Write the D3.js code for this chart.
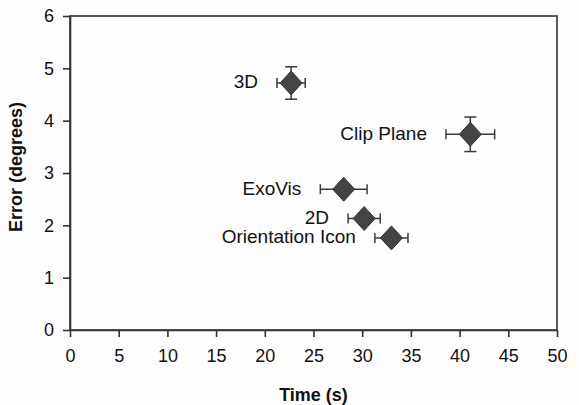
<!DOCTYPE html>
<html>
<head>
<meta charset="utf-8">
<script src="https://cdn.jsdelivr.net/npm/d3@7"></script>
<style>
  body { margin: 0; background: #fdfdfd; }
  svg { display: block; font-family: "Liberation Sans", Arial, sans-serif; }
  .axis text { font-size: 18px; fill: #111; }
  .axis path, .axis line { stroke: #333; stroke-width: 1.6px; }
  .title { font-size: 18px; font-weight: bold; fill: #111; }
  .label { font-size: 19px; fill: #111; }
</style>
</head>
<body>
<svg width="579" height="405"></svg>
<script>
// conditions, mean time (s), mean error (degrees), and their error bars
var conditions = ["3D", "Clip Plane", "ExoVis", "2D", "Orientation Icon"];
var timeMean  = [22.7, 41.1, 28.1, 30.2, 33.0];
var errorMean = [4.72, 3.74, 2.69, 2.13, 1.76];
var timeErr   = [1.45, 2.5, 2.4, 1.65, 1.7];
var errorErr  = [0.31, 0.33, 0.1, 0.1, 0.1];
var xTicks = [0, 5, 10, 15, 20, 25, 30, 35, 40, 45, 50];
var yTicks = [0, 1, 2, 3, 4, 5, 6];

var data = conditions.map(function(c, i) {
    return { name: c, t: timeMean[i], e: errorMean[i], te: timeErr[i], ee: errorErr[i] };
});

var svg = d3.select("svg");
var margin = { top: 16, right: 22, bottom: 75, left: 70 },
    width = 579 - margin.left - margin.right,
    height = 405 - margin.top - margin.bottom;

var x = d3.scaleLinear().domain([0, 50]).range([0, width]);
var y = d3.scaleLinear().domain([0, 6]).range([height, 0]);

var g = svg.append("g").attr("transform", "translate(" + margin.left + "," + margin.top + ")");

// frame
g.append("rect")
    .attr("width", width)
    .attr("height", height)
    .attr("fill", "none")
    .attr("stroke", "#333")
    .attr("stroke-width", 1.6);

g.append("g")
    .attr("class", "axis")
    .attr("transform", "translate(0," + height + ")")
    .call(d3.axisBottom(x).tickValues(xTicks).tickFormat(d3.format("d")).tickSize(7).tickSizeOuter(0).tickPadding(10))
    .selectAll("text").attr("dy", "0.85em");

g.append("g")
    .attr("class", "axis")
    .call(d3.axisLeft(y).tickValues(yTicks).tickFormat(d3.format("d")).tickSize(7).tickSizeOuter(0).tickPadding(9));

g.append("text")
    .attr("class", "title")
    .attr("x", width / 2)
    .attr("y", height + 71)
    .attr("text-anchor", "middle")
    .text("Time (s)");

g.append("text")
    .attr("class", "title")
    .attr("transform", "rotate(-90)")
    .attr("x", -height / 2 + 6)
    .attr("y", -48)
    .attr("text-anchor", "middle")
    .text("Error (degrees)");

var pts = g.selectAll(".pt").data(data).enter().append("g").attr("class", "pt");

var errColor = "#3a3a3a";

// horizontal error bars
pts.append("line")
    .attr("x1", function(d) { return x(d.t - d.te); })
    .attr("x2", function(d) { return x(d.t + d.te); })
    .attr("y1", function(d) { return y(d.e); })
    .attr("y2", function(d) { return y(d.e); })
    .attr("stroke", errColor).attr("stroke-width", 1.5);
[-1, 1].forEach(function(s) {
    pts.append("line")
        .attr("x1", function(d) { return x(d.t + s * d.te); })
        .attr("x2", function(d) { return x(d.t + s * d.te); })
        .attr("y1", function(d) { return y(d.e) - 5; })
        .attr("y2", function(d) { return y(d.e) + 5; })
        .attr("stroke", errColor).attr("stroke-width", 1.5);
});

// vertical error bars
pts.append("line")
    .attr("x1", function(d) { return x(d.t); })
    .attr("x2", function(d) { return x(d.t); })
    .attr("y1", function(d) { return y(d.e - d.ee); })
    .attr("y2", function(d) { return y(d.e + d.ee); })
    .attr("stroke", errColor).attr("stroke-width", 1.5);
[-1, 1].forEach(function(s) {
    pts.append("line")
        .attr("x1", function(d) { return x(d.t) - 6; })
        .attr("x2", function(d) { return x(d.t) + 6; })
        .attr("y1", function(d) { return y(d.e + s * d.ee); })
        .attr("y2", function(d) { return y(d.e + s * d.ee); })
        .attr("stroke", errColor).attr("stroke-width", 1.5);
});

// diamond markers
pts.append("path")
    .attr("transform", function(d) { return "translate(" + x(d.t) + "," + y(d.e) + ")"; })
    .attr("d", "M0,-12L11,0L0,12L-11,0Z")
    .attr("fill", "#444")
    .attr("stroke", "#333")
    .attr("stroke-width", 1);

pts.append("text")
    .attr("class", "label")
    .attr("x", function(d) { return x(d.t - d.te) - 19; })
    .attr("y", function(d) { return y(d.e); })
    .attr("dy", "0.28em")
    .attr("text-anchor", "end")
    .text(function(d) { return d.name; });
</script>
</body>
</html>
